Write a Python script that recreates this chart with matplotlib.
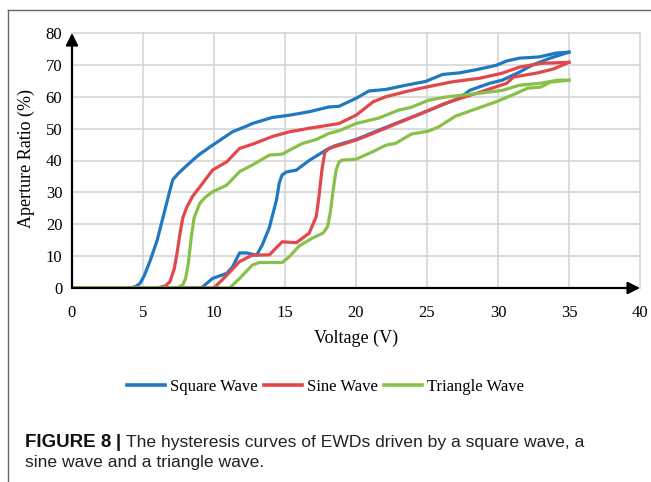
import matplotlib
matplotlib.use('Agg')
import matplotlib.pyplot as plt
from matplotlib.lines import Line2D

# Square wave - lower branch (late switching) and upper branch
square_low_v = [0, 9.1, 9.5, 9.9, 10.9, 11.3, 11.8, 12.3, 13.0, 13.4, 13.9, 14.4, 14.6, 14.8,
                15.1, 15.8, 16.7, 17.9, 18.5, 20.0, 21.6, 23.0, 24.5, 26.0, 27.3, 28.0, 29.4,
                30.3, 31.5, 32.4, 33.6, 35.0]
square_low_a = [0, 0, 1.5, 3, 4.6, 6.6, 11, 11, 10.3, 13.5, 19, 27.6, 33, 35.5,
                36.4, 37, 40, 43.3, 44.6, 46.6, 49.5, 52, 54.6, 57.3, 59.6, 62, 64.2,
                65.2, 67.7, 69.9, 72, 74]
square_up_v = [0, 4.1, 4.5, 4.8, 5.1, 5.5, 6.0, 6.4, 6.9, 7.1, 7.5, 8.1, 8.6, 9.0, 9.9,
               11.3, 12.3, 12.7, 14.1, 15.3, 16.7, 18.1, 18.8, 20.0, 20.9, 22.1, 23.5,
               24.9, 26.1, 27.3, 28.7, 29.9, 30.6, 31.5, 32.9, 34.1, 35.0]
square_up_a = [0, 0, 0.5, 1.5, 4, 8.5, 15, 22, 30.7, 34, 36, 38.5, 40.5, 42, 44.8,
               49, 50.8, 51.6, 53.5, 54.2, 55.3, 56.8, 57, 59.5, 61.8, 62.3, 63.6,
               64.8, 67, 67.5, 68.7, 69.9, 71.2, 72.1, 72.5, 73.7, 74]

# Sine wave
sine_low_v = [0, 10.0, 10.9, 11.8, 12.7, 13.9, 14.8, 15.8, 16.7, 17.2, 17.4, 17.6, 17.8,
              18.1, 20.0, 21.2, 22.6, 24.9, 26.3, 28.7, 30.6, 31.1, 32.7, 33.9, 35.0]
sine_low_a = [0, 0, 4, 8.3, 10.3, 10.4, 14.5, 14.2, 17.2, 22.4, 29, 37, 42.5,
              43.8, 46.4, 48.5, 51.1, 55.3, 58, 61.4, 64.2, 66.2, 67.4, 68.7, 70.8]
sine_up_v = [0, 6.0, 6.6, 6.9, 7.2, 7.4, 7.6, 7.8, 8.1, 8.5, 9.0, 9.9, 10.9, 11.8, 12.7,
             14.1, 15.3, 16.7, 18.1, 18.8, 20.0, 21.2, 22.1, 23.5, 24.9, 26.8, 28.7, 30.3,
             31.5, 33.1, 35.0]
sine_up_a = [0, 0, 0.7, 2, 6, 11, 17, 22, 25.5, 28.8, 31.7, 37, 39.6, 43.8, 45.1,
             47.5, 49, 50.1, 51.1, 51.6, 54.2, 58.4, 60, 61.6, 63, 64.7, 65.8, 67.4,
             69.3, 70.5, 70.8]

# Triangle wave
tri_low_v = [0, 11.1, 11.8, 12.7, 13.2, 14.8, 15.3, 16.0, 16.9, 17.7, 18.0, 18.2, 18.4,
             18.6, 18.8, 19.0, 20.0, 21.2, 22.1, 22.8, 23.9, 25.1, 25.8, 27.0, 28.2, 29.8,
             31.0, 32.1, 33.0, 33.7, 35.0]
tri_low_a = [0, 0, 3, 7.2, 8, 8, 9.8, 13.2, 15.6, 17.3, 19.3, 24, 31,
             37, 39.5, 40.1, 40.4, 42.8, 44.8, 45.4, 48.3, 49.2, 50.5, 53.9, 55.8, 58.3,
             60.5, 62.7, 63, 64.6, 65.2]
tri_up_v = [0, 7.4, 7.8, 8.0, 8.2, 8.4, 8.6, 9.0, 9.4, 9.9, 10.9, 11.8, 12.7, 13.9, 14.8,
            15.3, 16.2, 17.2, 18.1, 18.8, 20.0, 21.6, 23.0, 23.9, 25.1, 26.3, 28.7, 30.3,
            31.5, 33.1, 34.2, 35.0]
tri_up_a = [0, 0, 1, 3, 8, 16, 22, 26.6, 28.5, 30.2, 32.3, 36.5, 38.6, 41.7, 42,
            43.2, 45.3, 46.6, 48.5, 49.3, 51.6, 53.3, 55.8, 56.7, 58.9, 59.9, 61.1, 62,
            63.6, 64.3, 65.2, 65.2]

labels = ['Square Wave', 'Sine Wave', 'Triangle Wave']
colors = ['#1f78c1', '#e2474b', '#88c04a']
x_ticks = [0, 5, 10, 15, 20, 25, 30, 35, 40]
y_ticks = [0, 10, 20, 30, 40, 50, 60, 70, 80]

serif = ['Liberation Serif', 'DejaVu Serif']

fig = plt.figure(figsize=(6.51, 4.82), dpi=100)
ax = fig.add_axes([72 / 651, 1 - 288 / 482, 568 / 651, 255 / 482])

branches = [
    (square_low_v, square_low_a, square_up_v, square_up_a),
    (sine_low_v, sine_low_a, sine_up_v, sine_up_a),
    (tri_low_v, tri_low_a, tri_up_v, tri_up_a),
]
for (lv, la, uv, ua), lab, c in zip(branches, labels, colors):
    ax.plot(lv, la, color=c, lw=2.3, label=lab, solid_joinstyle='round', zorder=3)
    ax.plot(uv, ua, color=c, lw=2.3, solid_joinstyle='round', zorder=3)

ax.set_xlim(0, 40)
ax.set_ylim(0, 80)
ax.set_xticks(x_ticks)
ax.set_yticks(y_ticks)
ax.tick_params(length=0, labelsize=12)
ax.tick_params(axis='x', pad=12)
ax.tick_params(axis='y', pad=7)
for lbl in ax.get_xticklabels() + ax.get_yticklabels():
    lbl.set_family(serif)

ax.grid(True, color='#d9d9d9', lw=1.3, zorder=0)
for gl in ax.get_xgridlines() + ax.get_ygridlines():
    gl.set_clip_on(False)
for s in ax.spines.values():
    s.set_visible(False)

# axis lines with arrow heads
arrow_kw = dict(arrowstyle='-|>', color='black', lw=1.6, mutation_scale=18,
                shrinkA=0, shrinkB=0)
ax.annotate('', xy=(0, 80), xytext=(0, 0), arrowprops=arrow_kw, annotation_clip=False, zorder=4)
ax.annotate('', xy=(40, 0), xytext=(0, 0), arrowprops=arrow_kw, annotation_clip=False, zorder=4)

ax.set_xlabel('Voltage (V)', fontsize=13, family=serif)
ax.xaxis.set_label_coords(0.5, -0.165)
ax.set_ylabel('Aperture Ratio (%)', fontsize=13, family=serif)
ax.yaxis.set_label_coords(-0.065, 0.506)

leg = fig.legend(loc='center', bbox_to_anchor=(0.5, 1 - 387 / 482), ncol=3, frameon=False,
                 prop={'family': serif, 'size': 12}, handlelength=2.3, handletextpad=0.3,
                 columnspacing=0.35)
for h in leg.legend_handles:
    h.set_linewidth(2.6)

# caption
cap_y1 = 1 - 447 / 482
cap_y2 = 1 - 467 / 482
fig.text(25 / 651, cap_y1, 'FIGURE 8', fontsize=13.5, weight='bold',
         family='Liberation Sans', va='baseline', color='#111111')
fig.text(116 / 651, cap_y1, '|', fontsize=13.5, weight='bold',
         family='Liberation Sans', va='baseline', color='#111111')
fig.text(126 / 651, cap_y1, 'The hysteresis curves of EWDs driven by a square wave, a',
         fontsize=12.6, family='Liberation Sans', va='baseline', color='#222222')
fig.text(25 / 651, cap_y2, 'sine wave and a triangle wave.', fontsize=12.6,
         family='Liberation Sans', va='baseline', color='#222222')

# frame edges of the figure panel
fig.add_artist(Line2D([8 / 651, 8 / 651], [0, 1 - 10 / 482], color='#666666', lw=1.0))
fig.add_artist(Line2D([8 / 651, 1], [1 - 10 / 482, 1 - 10 / 482], color='#666666', lw=1.0))

fig.savefig('out.png', dpi=100)
